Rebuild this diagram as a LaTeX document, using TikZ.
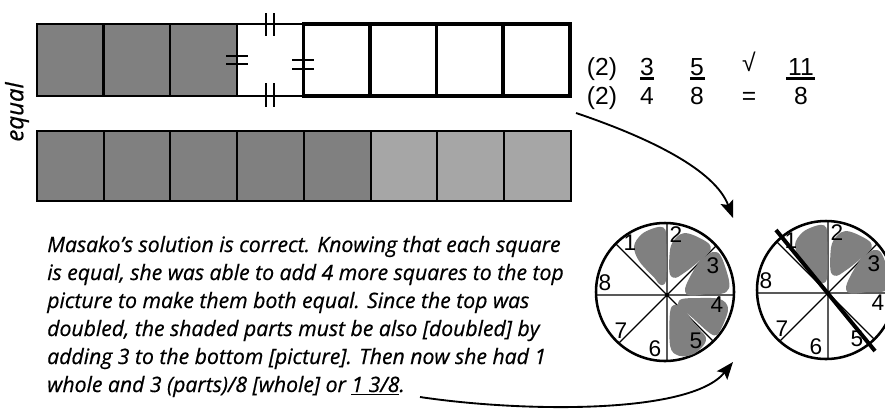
\documentclass[tikz,border=0pt]{standalone}
\usepackage{fontspec}
\setmainfont{Liberation Sans}
\newfontfamily\handfont[FakeBold=0.6]{Open Sans}
\usetikzlibrary{arrows.meta}
\definecolor{shadedark}{HTML}{808080}
\definecolor{shadelight}{HTML}{A6A6A6}

\begin{document}
\begin{tikzpicture}[x=0.75pt,y=-0.75pt,>={Stealth[length=13pt,width=10pt,inset=2.5pt]},
    hand/.style={font=\handfont\itshape\fontsize{15.9}{21}\selectfont,inner sep=0pt},
    num/.style={font=\fontsize{18.5}{21}\selectfont,inner sep=0pt,anchor=base},
    pienum/.style={font=\fontsize{17}{19}\selectfont,inner sep=0pt},
    tick/.style={line width=0.8pt},
    blob/.style={fill=shadedark,draw=shadedark,line width=4.5pt,line join=round}]
  \useasboundingbox (0,0) rectangle (885,408);
  \clip (0,0) rectangle (885,408);

  % top picture
  \foreach \i in {0,1,2}
    \draw[fill=shadedark,line width=1.7pt] ({37+66.6*\i},24) rectangle ++(66.6,72);
  \draw[line width=1pt] (237,24) -- (303,24) (237,96) -- (303,96);
  \foreach \i in {4,...,7}
    \draw[line width=2.7pt] ({37+66.6*\i},24) rectangle ++(66.6,72);
  \draw[tick] (266,13) -- (266,36) (274,13) -- (274,36)
              (266,83) -- (266,107) (274,83) -- (274,107);
  \draw[tick] (226,56) -- (248,56) (226,64) -- (248,64)
              (292,60) -- (314,60) (292,69) -- (314,69);

  % bottom picture
  \foreach \i in {0,...,4}
    \draw[fill=shadedark,line width=1.5pt] ({37+66.7*\i},131) rectangle ++(66.7,70);
  \foreach \i in {5,6,7}
    \draw[fill=shadelight,line width=1.5pt] ({37+66.7*\i},131) rectangle ++(66.7,70);

  \node[hand,rotate=90,font=\handfont\itshape\fontsize{18}{20}\selectfont] (equal) at (17,112) {equal};

  % numbers
  \node[num] (twoa) at (602,75) {(2)};
  \node[num] (twob) at (602,104) {(2)};
  \node[num] (three) at (647,75) {3};
  \node[num] (four) at (647,104) {4};
  \node[num] (five) at (697,75) {5};
  \node[num] (eight) at (697,104) {8};
  \node[num] (check) at (749,71) {√};
  \node[num] (equals) at (749,104) {=};
  \node[num] (eleven) at (801,75) {11};
  \node[num] (eightb) at (801,104) {8};
  \draw[line width=1.8pt] (640,78.5) -- (654,78.5) (690,78.5) -- (705,78.5) (786,78.5) -- (815,78.5);

  % explanation
  \node[hand,anchor=base west] (cap1) at (47,252) {Masako’s solution is correct. Knowing that each square};
  \node[hand,anchor=base west] (cap2) at (47,280) {is equal, she was able to add 4 more squares to the top};
  \node[hand,anchor=base west] (cap3) at (47,308) {picture to make them both equal. Since the top was};
  \node[hand,anchor=base west] (cap4) at (47,336) {doubled, the shaded parts must be also [doubled] by};
  \node[hand,anchor=base west] (cap5) at (47,364) {adding 3 to the bottom [picture]. Then now she had 1};
  \node[hand,anchor=base west] (cap6) at (47,392) {whole and 3 (parts)/8 [whole] or \underline{1 3/8}.};

  % pies
  \foreach \cx/\cy/\nm in {667/295/pa,828/293/pb}{
    \begin{scope}[shift={(\cx,\cy)}]
      \begin{scope}
        \clip (-2,-3) circle[radius=69];
        \draw[line width=0.9pt] (0,-100) -- (0,100) (-100,0) -- (100,0)
          (-100,-100) -- (100,100) (-100,100) -- (100,-100);
      \end{scope}
      \filldraw[blob] plot[smooth cycle,tension=0.55] coordinates
        {(-24,-58) (-15,-63) (-6,-65) (-4,-59) (-4,-15) (-11,-20) (-25,-35) (-30,-48)};
      \filldraw[blob] plot[smooth cycle,tension=0.55] coordinates
        {(6,-21) (6,-45) (11,-55) (18,-59) (30,-55) (41,-47) (30,-36) (16,-25)};
      \filldraw[blob] plot[smooth cycle,tension=0.55] coordinates
        {(21,-4) (33,-29) (46,-40) (52,-36) (59,-14) (57,-5) (40,-4)};
      \draw[line width=1.9pt] (-2,-3) circle[radius=69];
      \foreach \k/\lx/\ly in {1/-37/-52,2/9/-60,3/46/-29,4/50/10,5/29/46,6/-12/54,7/-46/36,8/-62/-12}
        \node[pienum] (\nm\k) at (\lx,\ly) {\k};
    \end{scope}
  }
  \begin{scope}[shift={(667,295)}]
    \filldraw[blob] plot[smooth cycle,tension=0.55] coordinates
      {(14,8) (33,6) (52,7) (58,15) (50,35) (45,36) (28,21)};
    \filldraw[blob] plot[smooth cycle,tension=0.55] coordinates
      {(6,18) (11,14) (30,36) (36,45) (26,56) (13,58) (6,50)};
    \node[pienum] at (pa4) {4};
    \node[pienum] at (pa5) {5};
  \end{scope}
  \draw[line width=3pt] (776,230) -- (875,351);

  % arrows
  \coordinate (fromtop) at (576,113);
  \coordinate (topin) at (733,218);
  \coordinate (fromtext) at (420,397);
  \coordinate (bottomin) at (733,362);
  \draw[->,line width=1.4pt] (fromtop) .. controls (650,138) and (715,170) .. (topin);
  \draw[->,line width=1.4pt] (fromtext) .. controls (520,412) and (690,415) .. (bottomin);
\end{tikzpicture}
\end{document}
